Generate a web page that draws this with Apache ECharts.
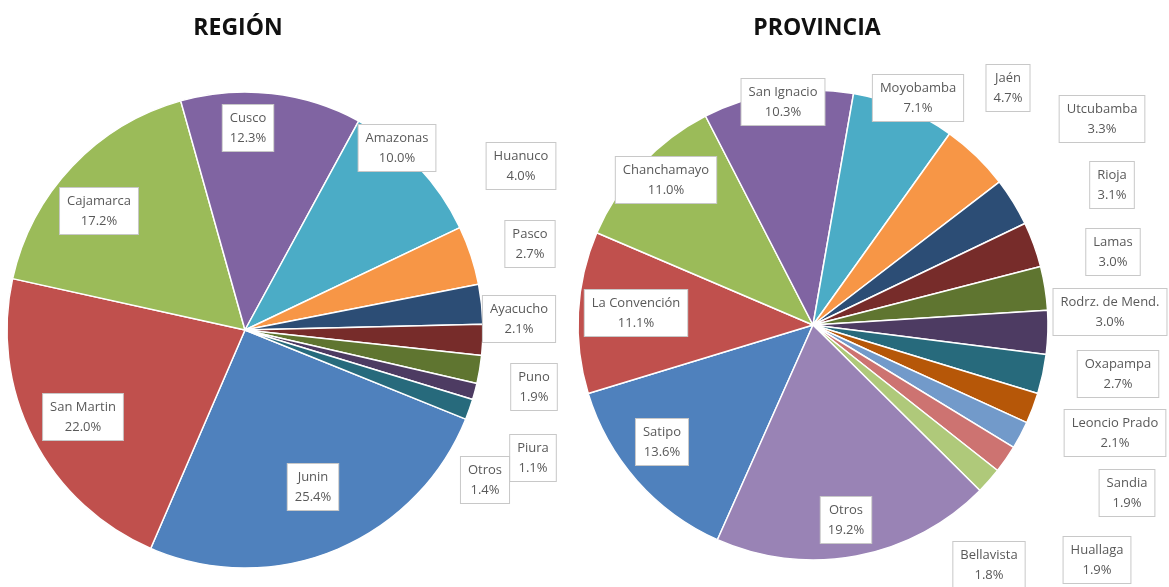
<!DOCTYPE html>
<html>
<head>
<meta charset="utf-8">
<script src="https://cdn.jsdelivr.net/npm/echarts@6/dist/echarts.min.js"></script>
<style>
  html, body { margin: 0; padding: 0; background: #fff; }
  #chart { width: 1169px; height: 587px; }
</style>
</head>
<body>
<div id="chart"></div>
<script>
// region data
var regionNames = ['Junin', 'San Martin', 'Cajamarca', 'Cusco', 'Amazonas', 'Huanuco',
    'Pasco', 'Ayacucho', 'Puno', 'Piura', 'Otros'];
var regionValues = [25.4, 22.0, 17.2, 12.3, 10.0, 4.0, 2.7, 2.1, 1.9, 1.1, 1.4];

// provincia data
var provNames = ['Satipo', 'La Convención', 'Chanchamayo', 'San Ignacio', 'Moyobamba', 'Jaén',
    'Utcubamba', 'Rioja', 'Lamas', 'Rodrz. de Mend.', 'Oxapampa', 'Leoncio Prado',
    'Sandia', 'Huallaga', 'Bellavista', 'Otros'];
var provValues = [13.6, 11.1, 11.0, 10.3, 7.1, 4.7, 3.3, 3.1, 3.0, 3.0, 2.7, 2.1, 1.9, 1.9, 1.8, 19.2];

// excel 2010 style palette (each pie starts again from the first colour)
var palette = ['#4F81BD', '#C0504D', '#9BBB59', '#8064A2', '#4BACC6', '#F79646',
    '#2C4D75', '#772C2A', '#5F7530', '#4D3B62', '#276A7C', '#B65708',
    '#729ACA', '#CD7371', '#AFC97A', '#9983B5'];

// where each data label box sits (centre of box, px)
var regionLabelPos = [[313, 487], [83, 417], [99, 211], [248, 128], [397, 148], [521, 166],
    [530, 244], [519, 319], [534, 387], [533, 458], [485, 480]];
var provLabelPos = [[662, 442], [636, 313], [666, 180], [783, 102], [918, 98], [1008, 88],
    [1102, 119], [1112, 185], [1113, 252], [1110, 312], [1118, 374], [1115, 433],
    [1127, 493], [1097, 560], [989, 565], [846, 520]];

function toData(names, values) {
    return names.map(function (n, i) {
        return { name: n, value: values[i], itemStyle: { color: palette[i] } };
    });
}

var labelStyle = {
    show: true,
    position: 'inside',
    formatter: function (p) {
        return p.name + '\n' + p.value.toFixed(1) + '%';
    },
    color: '#595959',
    fontFamily: 'Open Sans',
    fontSize: 13,
    lineHeight: 20,
    backgroundColor: '#fff',
    borderColor: '#c8c8c8',
    borderWidth: 1,
    padding: [3, 7]
};

function makePie(names, values, center, radius, startAngle, labelPos) {
    return {
        type: 'pie',
        center: center,
        radius: radius,
        startAngle: startAngle,
        clockwise: true,
        avoidLabelOverlap: false,
        animation: false,
        silent: true,
        itemStyle: { borderColor: '#fff', borderWidth: 1.5 },
        label: labelStyle,
        labelLine: { show: false },
        labelLayout: function (params) {
            var p = labelPos[params.dataIndex];
            return { x: p[0], y: p[1], align: 'center', verticalAlign: 'middle' };
        },
        data: toData(names, values)
    };
}

var chart = echarts.init(document.getElementById('chart'));

chart.setOption({
    backgroundColor: '#fff',
    title: [
        {
            text: 'REGIÓN', left: 233, top: 12, textAlign: 'center',
            textStyle: { fontFamily: 'Open Sans', fontWeight: 'bold', fontSize: 23, color: '#111' }
        },
        {
            text: 'PROVINCIA', left: 812, top: 12, textAlign: 'center',
            textStyle: { fontFamily: 'Open Sans', fontWeight: 'bold', fontSize: 23, color: '#111' }
        }
    ],
    series: [
        makePie(regionNames, regionValues, [245, 330], 238, 338, regionLabelPos),
        makePie(provNames, provValues, [813, 325], 235, 246, provLabelPos)
    ]
});
</script>
</body>
</html>
